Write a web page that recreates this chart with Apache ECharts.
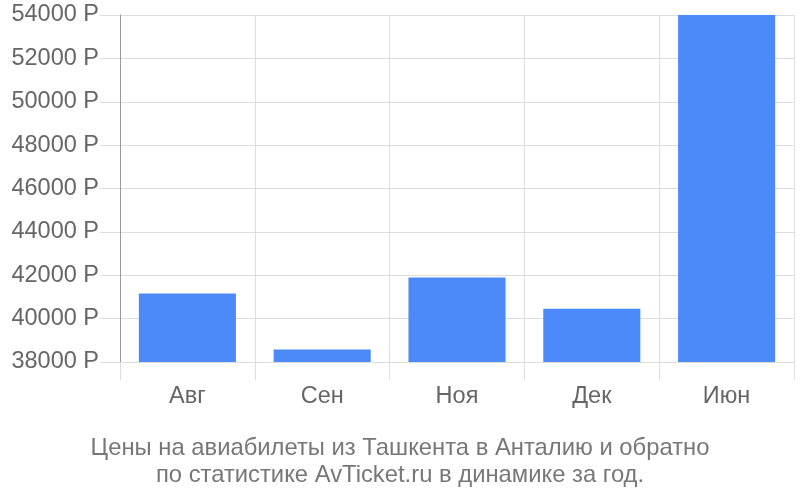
<!DOCTYPE html>
<html><head><meta charset="utf-8">
<script src="https://cdn.jsdelivr.net/npm/echarts@6/dist/echarts.min.js"></script>
<style>html,body{margin:0;padding:0;background:#fff}#c{width:800px;height:500px}</style>
</head><body><div id="c"></div>
<script>
const categories = ['Авг', 'Сен', 'Ноя', 'Дек', 'Июн'];
const prices = [41160, 38580, 41900, 40450, 54000];
const yMin = 38000, yMax = 54000, yStep = 2000;
const titleLines = ['Цены на авиабилеты из Ташкента в Анталию и обратно', 'по статистике AvTicket.ru в динамике за год.'];

const chart = echarts.init(document.getElementById('c'), null, {renderer: 'canvas'});
chart.setOption({
  animation: false,
  title: {
    text: titleLines.join('\n'),
    left: 'center', top: 430,
    textStyle: {color: '#777', fontSize: 23.8, fontWeight: 'normal', fontFamily: 'Liberation Sans', lineHeight: 27}
  },
  grid: {left: 120, right: 6, top: 15, bottom: 138, containLabel: false},
  xAxis: {
    type: 'category', data: categories, boundaryGap: true,
    axisLine: {show: false},
    axisTick: {show: true, length: 18, lineStyle: {color: '#ddd', width: 1}},
    splitLine: {show: true, lineStyle: {color: '#ddd', width: 1}},
    axisLabel: {color: '#666', fontSize: 23.5, fontFamily: 'Liberation Sans', margin: 23}
  },
  yAxis: {
    type: 'value', min: yMin, max: yMax, interval: yStep,
    axisLine: {show: true, lineStyle: {color: '#999', width: 1}},
    axisTick: {show: true, length: 20, lineStyle: {color: '#ddd', width: 1}},
    splitLine: {show: true, lineStyle: {color: '#ddd', width: 1}},
    axisLabel: {color: '#666', fontSize: 23.5, fontFamily: 'Liberation Sans', margin: 21, formatter: v => v + ' Р'}
  },
  series: [{
    type: 'bar', data: prices, barWidth: '72%',
    itemStyle: {color: '#4c89f9'}
  }]
});
</script></body></html>
